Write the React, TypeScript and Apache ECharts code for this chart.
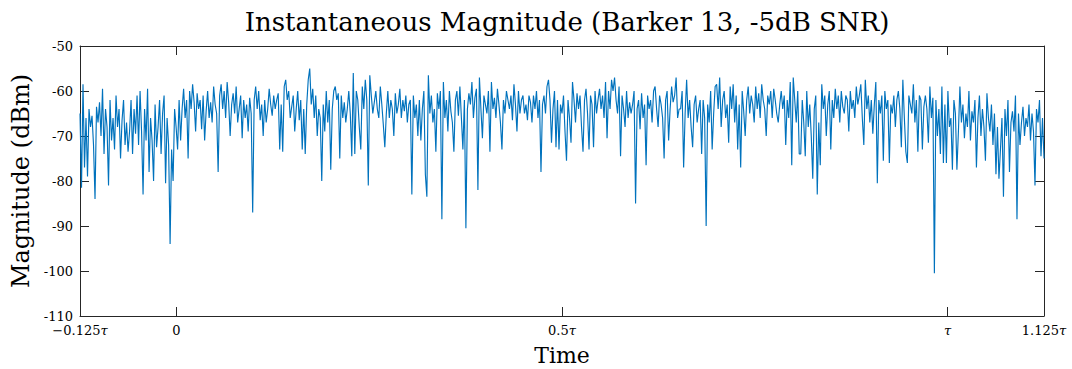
import React, { useEffect, useRef } from "react";
import * as echarts from "echarts";

const chartTitle = "Instantaneous Magnitude (Barker 13, -5dB SNR)";
const xName = "Time";
const yName = "Magnitude (dBm)";
const xMin = -0.125;
const xMax = 1.125;
const yMin = -110;
const yMax = -50;
const yStep = 10;
const xTickValues = [-0.125, 0, 0.5, 1, 1.125];
const xTickLabels = ["−0.125{i|τ}", "0", "0.5{i|τ}", "{i|τ}", "1.125{i|τ}"];

// magnitude samples (dBm) in order of time
const seg1 = [-65, -81.5, -58.5, -77, -66, -79, -64, -68, -65.5, -72, -84, -63.5, -67, -62.5, -70, -59.5, -74, -64, -68, -81, -62, -71, -66, -73, -61, -68, -64, -75, -66.5, -62, -72, -67, -73.5, -69, -62, -74, -64, -69.5, -61, -72, -60, -69, -83, -64, -71, -59.5, -78, -66, -71, -80, -63, -72.5, -68, -62, -74, -65, -61, -80.5, -66, -72, -94, -73, -80, -64, -68, -73, -62, -71, -64, -59.5, -66, -62, -75, -60, -64, -58.5, -62.5, -69, -60.5, -64];
const seg2 = [-62, -68.5, -61, -71, -64.5, -60, -66, -62.5, -67, -59, -63, -65, -78, -61, -58.5, -64, -60, -66, -58, -62.5, -70, -63, -60.5, -65, -59, -67, -64, -61, -70.5, -62, -66, -63, -69, -61.5, -65, -87, -62, -59, -64, -60, -66.5, -63, -70, -62, -67, -64, -59.5, -63, -65.5, -61, -64, -62, -60.5, -73, -63, -73.5, -59, -57.5, -62, -60, -66, -63.5, -61, -69, -64, -60, -66.5, -62, -73, -64, -74, -63, -57.5, -55, -63, -59.5, -66, -61, -70, -64];
const seg3 = [-66, -80, -63, -69, -60, -67, -62, -77.5, -64, -60, -59, -62, -60.5, -75, -61, -66, -62.5, -67, -64, -60, -65, -74.5, -56, -74, -60, -62, -68, -73, -59, -64, -57.5, -62, -81, -56.5, -61, -65, -62.5, -60, -64, -66, -59, -63, -67.5, -72.5, -65, -60, -66, -62, -64, -70, -60.5, -65, -63, -59.5, -66, -62, -64.5, -61, -67, -63, -62, -83, -61, -66, -63, -70, -62, -71, -64, -60, -78.5, -83.5, -56.5, -65, -61, -67, -64, -73.5, -60.5, -64];
const seg4 = [-60, -88.5, -58, -66, -62, -69, -60, -64.5, -67, -73.5, -62, -60, -65.5, -59, -66, -73, -62, -90.5, -64, -60.5, -63, -58, -66, -61.5, -59.5, -82, -57, -64, -70.5, -61, -63, -65, -60, -73.5, -58, -64, -61.5, -66, -59.5, -63, -67, -73, -62, -65, -60, -62, -64, -61, -66.5, -58.5, -63, -69, -60, -65, -62, -61, -65, -63, -66.5, -61, -62.5, -67, -61, -64, -60, -66, -62, -78, -63, -61, -65, -59, -57.5, -62, -71.5, -64, -60, -72.5, -62, -73];
const seg5 = [-63, -65, -61, -69, -75.5, -62, -66, -71.5, -58, -62, -67, -60.5, -64, -61, -68, -73.5, -62, -59.5, -65, -73, -61, -63, -72.5, -60, -65, -62, -59.5, -64, -61, -66, -58, -70.5, -60, -64, -57.5, -60, -57, -62, -65, -59, -74.5, -61, -64, -68, -60, -66, -62.5, -65, -63, -60, -85, -64, -62, -68.5, -60.5, -66, -63, -76.5, -61, -64, -62, -67, -60, -59, -64, -68, -61, -63, -66, -75, -62, -60, -71, -64, -59, -62.5, -61, -57, -66, -64];
const seg6 = [-64, -60, -77, -65, -57.5, -66, -62, -68, -72.5, -63, -61, -67, -64, -62, -74, -62, -66, -90, -63, -67, -60, -73, -65, -59, -58.5, -64, -57, -68, -62, -60, -66, -63, -71.5, -59, -64, -58.5, -67, -61, -73, -63, -77, -60, -64.5, -70, -62, -59, -65, -61, -63, -67, -59, -64, -60.5, -66, -58.5, -62, -64, -70, -61, -63, -60, -66, -59.5, -62, -65, -67, -63, -60, -64, -61, -72, -62, -66, -58, -76.5, -57, -62, -67, -60, -74];
const seg7 = [-74, -62, -67, -74.5, -60, -68, -63, -70, -79.5, -64, -61, -83, -67, -76.5, -58.5, -64, -61, -70, -63, -60, -73, -62, -66, -59.5, -64, -61, -67, -60, -63.5, -65, -61, -62, -69, -60, -64, -62, -66, -59, -63, -61, -58.5, -66, -72, -57.5, -64, -61, -67, -62, -69.5, -63, -58, -80.5, -62, -65, -61, -75.5, -60, -64, -62, -76, -63, -65, -61, -68, -62, -60, -64, -72.5, -57.5, -66, -73.5, -76, -61, -63, -65, -58.5, -67, -62, -73.5, -61];
const seg8 = [-62, -73, -63.5, -61, -64, -71.5, -59, -66, -61.5, -100.5, -62, -70, -64, -74, -59, -76, -63, -76, -60, -68, -66, -77.5, -62, -65, -77.5, -69, -59, -67, -63, -70.5, -65, -68, -60, -71, -64.5, -67, -62, -77, -66, -61, -70, -64, -68, -75.5, -60.5, -66, -69, -63, -72, -65, -78.5, -68, -79.5, -73, -66, -83.5, -64, -70, -62, -78, -67, -64.5, -69, -61, -88.5, -65, -72, -67, -63.5, -70, -66, -68, -63, -71, -65, -69, -81, -64, -67, -62, -74.5, -66, -75];

const magnitudes = [...seg1, ...seg2, ...seg3, ...seg4, ...seg5, ...seg6, ...seg7, ...seg8];

const FONT = "'DejaVu Serif', 'Liberation Serif', serif";
const AXIS_COLOR = "#262626";

export default function App() {
  const ref = useRef<HTMLDivElement>(null);
  useEffect(() => {
    if (!ref.current) return;
    const chart = echarts.init(ref.current, undefined, { renderer: "svg" });
    const n = magnitudes.length;
    const data = magnitudes.map((v, i) => [xMin + ((xMax - xMin) * i) / (n - 1), v]);
    const labelFor = (v: number) => {
      const k = xTickValues.findIndex((t) => Math.abs(t - v) < 1e-9);
      return k >= 0 ? xTickLabels[k] : "";
    };
    const tickStyle = { show: true, inside: true, length: 9, lineStyle: { color: AXIS_COLOR, width: 1 } };
    chart.setOption({
      animation: false,
      backgroundColor: "#ffffff",
      title: {
        text: chartTitle,
        left: 562,
        textAlign: "center",
        top: 4,
        textStyle: { fontFamily: FONT, fontSize: 26, fontWeight: "normal", color: "#000" },
      },
      grid: { left: 80, top: 46, width: 964, height: 270, containLabel: false, outerBoundsMode: "none" },
      xAxis: [
        {
          type: "value",
          min: xMin,
          max: xMax,
          position: "bottom",
          name: xName,
          nameLocation: "middle",
          nameGap: 28,
          nameTextStyle: { fontFamily: FONT, fontSize: 22, color: "#000" },
          axisLine: { show: true, onZero: false, lineStyle: { color: AXIS_COLOR, width: 1 } },
          axisTick: { ...tickStyle, customValues: xTickValues },
          axisLabel: {
            customValues: xTickValues,
            formatter: labelFor,
            margin: 8,
            fontFamily: FONT,
            fontSize: 13,
            color: "#000",
            rich: { i: { fontFamily: FONT, fontSize: 13, fontStyle: "italic", color: "#000" } },
          },
          splitLine: { show: false },
        },
        {
          type: "value",
          min: xMin,
          max: xMax,
          position: "top",
          axisLine: { show: true, onZero: false, lineStyle: { color: AXIS_COLOR, width: 1 } },
          axisTick: { ...tickStyle, customValues: xTickValues },
          axisLabel: { show: false },
          splitLine: { show: false },
        },
      ],
      yAxis: [
        {
          type: "value",
          min: yMin,
          max: yMax,
          interval: yStep,
          position: "left",
          name: yName,
          nameLocation: "middle",
          nameGap: 45,
          nameTextStyle: { fontFamily: FONT, fontSize: 24, color: "#000" },
          axisLine: { show: true, onZero: false, lineStyle: { color: AXIS_COLOR, width: 1 } },
          axisTick: tickStyle,
          axisLabel: { margin: 7, fontFamily: FONT, fontSize: 13, color: "#000" },
          splitLine: { show: false },
        },
        {
          type: "value",
          min: yMin,
          max: yMax,
          interval: yStep,
          position: "right",
          axisLine: { show: true, onZero: false, lineStyle: { color: AXIS_COLOR, width: 1 } },
          axisTick: tickStyle,
          axisLabel: { show: false },
          splitLine: { show: false },
        },
      ],
      series: [
        {
          type: "line",
          xAxisIndex: 0,
          yAxisIndex: 0,
          data,
          showSymbol: false,
          lineStyle: { color: "#0072BD", width: 1.15 },
          itemStyle: { color: "#0072BD" },
        },
      ],
    });
    return () => chart.dispose();
  }, []);
  return (
    <div
      ref={ref}
      style={{ position: "fixed", left: 0, top: 0, width: 1072, height: 369, background: "#fff" }}
    />
  );
}
